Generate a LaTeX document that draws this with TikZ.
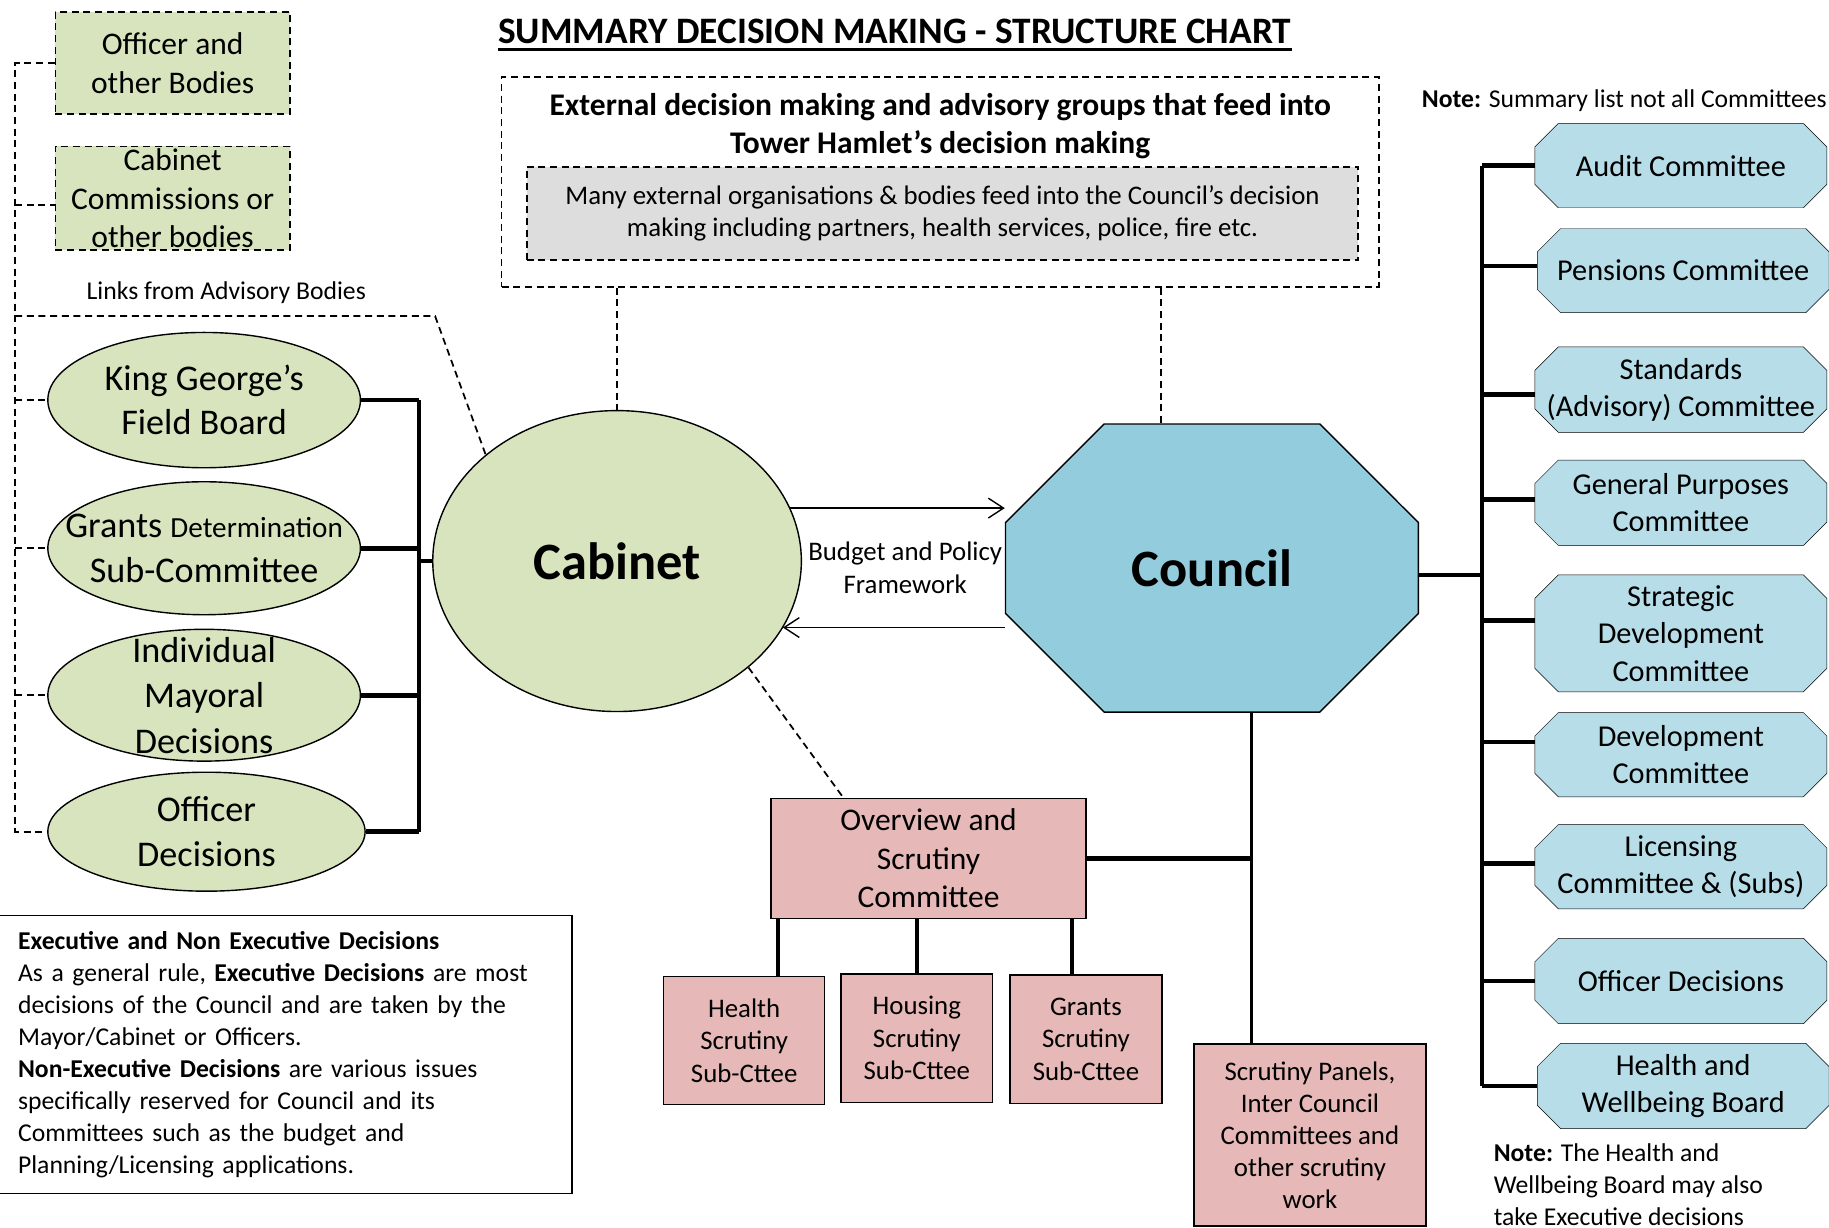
\documentclass[tikz,border=0pt]{standalone}
\usepackage{fontspec}
\setmainfont{Carlito}
\usetikzlibrary{arrows.meta,shapes.geometric,shapes.misc,backgrounds}

\definecolor{cabgreen}{RGB}{215,228,189}
\definecolor{cncblue}{RGB}{147,205,221}
\definecolor{cttblue}{RGB}{183,222,232}
\definecolor{scrpink}{RGB}{230,185,184}
\definecolor{extgray}{RGB}{221,221,221}

\newcommand{\fsz}[2]{\fontsize{#1}{#2}\selectfont}

\begin{document}
\begin{tikzpicture}[x=1pt,y=-1pt,line width=1.2pt,
    >={Straight Barb[length=13pt,width=17pt]},
    dashline/.style={dash pattern=on 6pt off 4pt,line width=1.5pt},
    bus/.style={line width=4pt},
    txt/.style={align=center,inner sep=0pt},
    greenell/.style={ellipse,draw,fill=cabgreen,inner sep=0pt},
    advbox/.style={rectangle,draw,dashline,fill=cabgreen,inner sep=0pt,minimum width=201pt},
    pinkbox/.style={rectangle,draw,fill=scrpink,inner sep=0pt,align=center},
    subbox/.style={pinkbox,minimum width=130pt,minimum height=110pt,font=\fsz{23}{28}},
    cttbox/.style={rectangle,inner sep=0pt,minimum width=249pt,minimum height=71pt,align=center,font=\fsz{26}{32}},
  ]
  \useasboundingbox (0,0) rectangle (1568,1052);

  % heading
  \node[inner sep=0pt,font=\fsz{32}{38}\bfseries] (title) at (767,27) {SUMMARY DECISION MAKING - STRUCTURE CHART};
  \draw[line width=2.5pt] ([yshift=-4pt]title.south west) -- ([yshift=-4pt]title.south east);

  % external groups
  \node[draw,dashline,minimum width=752pt,minimum height=180pt] (ext) at (806,156) {};
  \node[txt,font=\fsz{27}{33}\bfseries] (exttitle) at (806,108) {External decision making and advisory groups that feed into\\Tower Hamlet’s decision making};
  \node[draw,dashline,fill=extgray,minimum width=713pt,minimum height=80pt,align=center,font=\fsz{23}{28}] (extorg) at (808,183)
    {Many external organisations \& bodies feed into the Council’s decision\\making including partners, health services, police, fire etc.};

  % advisory bodies
  \node[advbox,minimum height=88pt,align=center,font=\fsz{27}{33}] (offbod) at (148,54) {Officer and\\other Bodies};
  \node[advbox,minimum height=89pt] (cabcom) at (148,170) {};
  \node[txt,font=\fsz{27}{33}] at (cabcom) {Cabinet\\Commissions or\\other bodies};
  \node[font=\fsz{22}{27}] (links) at (194,251) {Links from Advisory Bodies};

  % executive side
  \node[greenell,minimum width=268pt,minimum height=116pt] (kgf) at (175,343) {};
  \node[txt,font=\fsz{31}{38}] at (kgf) {King George’s\\Field Board};
  \node[greenell,minimum width=268pt,minimum height=114pt] (gds) at (175,470) {};
  \node[txt,font=\fsz{31}{38}] at (gds) {Grants {\fsz{25}{38}Determination}\\Sub-Committee};
  \node[greenell,minimum width=268pt,minimum height=113pt] (imd) at (175,596) {};
  \node[txt,font=\fsz{31}{39}] at (imd) {Individual\\Mayoral\\Decisions};
  \node[greenell,minimum width=272pt,minimum height=102pt] (ofd) at (177,713) {};
  \node[txt,font=\fsz{31}{39}] at (ofd) {Officer\\Decisions};

  \node[greenell,minimum width=316pt,minimum height=258pt,font=\fsz{45}{54}\bfseries] (cab) at (529,481) {Cabinet};
  \node[chamfered rectangle,chamfered rectangle sep=72pt,draw,fill=cncblue,inner sep=0pt,
    minimum width=354pt,minimum height=247pt,font=\fsz{45}{54}\bfseries] (cnc) at (1039,487) {Council};

  \node[txt,font=\fsz{23}{28}] (bpf) at (776,487) {Budget and Policy\\Framework};

  % scrutiny
  \node[pinkbox,minimum width=270pt,minimum height=103pt,font=\fsz{27}{33}] (osc) at (796,736) {Overview and\\Scrutiny\\Committee};
  \node[subbox,minimum width=138pt] (hsc) at (638,892) {Health\\Scrutiny\\Sub-Cttee};
  \node[subbox] (hou) at (786,890) {Housing\\Scrutiny\\Sub-Cttee};
  \node[subbox] (gsc) at (931,891) {Grants\\Scrutiny\\Sub-Cttee};
  \node[pinkbox,minimum width=199pt,minimum height=156pt,font=\fsz{23}{27.5}] (spn) at (1123,973)
    {Scrutiny Panels,\\Inter Council\\Committees and\\other scrutiny\\work};

  % council committees
  \node[anchor=west,font=\fsz{22}{27}] (note1) at (1215,86) {\textbf{Note:} Summary list not all Committees};
  \node[cttbox] (aud) at (1441,142) {Audit Committee};
  \node[cttbox] (pen) at (1443,232) {Pensions Committee};
  \node[cttbox,minimum height=72pt] (std) at (1441,334) {Standards\\(Advisory) Committee};
  \node[cttbox,minimum height=72pt] (gpc) at (1441,431) {General Purposes\\Committee};
  \node[cttbox,minimum height=99pt] (sdc) at (1441,543) {Strategic\\Development\\Committee};
  \node[cttbox] (dev) at (1441,647) {Development\\Committee};
  \node[cttbox] (lic) at (1441,743) {Licensing\\Committee \& (Subs)};
  \node[cttbox,minimum height=72pt] (ofr) at (1441,841) {Officer Decisions};
  \node[cttbox,minimum height=72pt] (hwb) at (1443,931) {Health and\\Wellbeing Board};
  \begin{scope}[on background layer]
    \foreach \c in {aud,pen,std,gpc,sdc,dev,lic,ofr,hwb}
      \draw[fill=cttblue] ([xshift=20pt]\c.north west) -- ([xshift=-20pt]\c.north east) -- ([yshift=-20pt]\c.north east)
        -- ([yshift=20pt]\c.south east) -- ([xshift=-20pt]\c.south east) -- ([xshift=20pt]\c.south west)
        -- ([yshift=20pt]\c.south west) -- ([yshift=-20pt]\c.north west) -- cycle;
  \end{scope}
  \node[anchor=north west,align=left,inner sep=0pt,font=\fsz{22}{27.4}] (note2) at (1280,980)
    {\textbf{Note:} The Health and\\Wellbeing Board may also\\take Executive decisions};

  % decisions text
  \node[draw,minimum width=491pt,minimum height=238pt,text width=459pt,align=left,inner xsep=16pt,font=\fsz{22}{27.4}] (decnote) at (245,904)
    {\textbf{Executive and Non Executive Decisions}\\
     As a general rule, \textbf{Executive Decisions} are most\\
     decisions of the Council and are taken by the\\
     Mayor/Cabinet or Officers.\\
     \textbf{Non-Executive Decisions} are various issues\\
     specifically reserved for Council and its\\
     Committees such as the budget and\\
     Planning/Licensing applications.};

  % dashed links
  \coordinate (lrail) at (13,713);
  \coordinate (lnk) at (373,271);
  \coordinate (cncTop) at ([xshift=-44pt]cnc.north);
  \draw[dashline] (offbod.west) -- (offbod.west -| lrail) -- (lrail) -- (ofd.west);
  \draw[dashline] ([yshift=-6pt]cabcom.west -| lrail) -- ([yshift=-6pt]cabcom.west);
  \draw[dashline] (kgf.west -| lrail) -- (kgf.west);
  \draw[dashline] (gds.west -| lrail) -- (gds.west);
  \draw[dashline] (imd.west -| lrail) -- (imd.west);
  \draw[dashline] (lnk -| lrail) -- (lnk) -- (cab.141);
  \draw[dashline] (ext.south -| cab.north) -- (cab.north);
  \draw[dashline] (cncTop |- ext.south) -- (cncTop);
  \draw[dashline] (cab.-39) -- ([xshift=-73pt]osc.north);

  % budget arrows
  \draw[->] (cab.17) -- (cab.17 -| cnc.west);
  \coordinate (bpfBot) at ([yshift=-51pt]cnc.west);
  \draw[->] (bpfBot) -- (bpfBot -| cab.-22);

  % executive bus
  \coordinate (lbus) at ([xshift=-11pt]cab.west);
  \draw[bus] (kgf.east) -- (kgf.east -| lbus);
  \draw[bus] (gds.east) -- (gds.east -| lbus);
  \draw[bus] (imd.east) -- (imd.east -| lbus);
  \draw[bus] (ofd.east) -- (ofd.east -| lbus);
  \draw[line width=3pt] (kgf.east -| lbus) -- (ofd.east -| lbus);
  \draw[line width=3pt] (lbus) -- (cab.west);

  % scrutiny bus
  \coordinate (cdown) at ([xshift=34pt]cnc.south);
  \coordinate (hscTop) at ([xshift=29pt]hsc.north);
  \coordinate (gscTop) at ([xshift=-12pt]gsc.north);
  \draw[line width=3pt] (cdown) -- (cdown |- spn.north);
  \draw[bus] (osc.east) -- (osc.east -| cdown);
  \draw[bus] (hscTop |- osc.south) -- (hscTop);
  \draw[bus] (hou.north |- osc.south) -- (hou.north);
  \draw[bus] (gscTop |- osc.south) -- (gscTop);

  % committee bus
  \coordinate (rbus) at ([xshift=54pt,yshift=-6pt]cnc.east);
  \draw[bus] (rbus -| cnc.east) -- (rbus);
  \draw[line width=3pt] (rbus |- aud.west) -- (rbus |- hwb.west);
  \draw[bus] (rbus |- aud.west) -- (aud.west);
  \draw[bus] ([yshift=4pt]rbus |- pen.west) -- ([yshift=4pt]pen.west);
  \draw[bus] ([yshift=-4pt]rbus |- std.west) -- ([yshift=-4pt]std.west);
  \draw[bus] ([yshift=3pt]rbus |- gpc.west) -- ([yshift=3pt]gpc.west);
  \draw[bus] ([yshift=11pt]rbus |- sdc.west) -- ([yshift=11pt]sdc.west);
  \draw[bus] ([yshift=11pt]rbus |- dev.west) -- ([yshift=11pt]dev.west);
  \draw[bus] ([yshift=3pt]rbus |- lic.west) -- ([yshift=3pt]lic.west);
  \draw[bus] (rbus |- ofr.west) -- (ofr.west);
  \draw[bus] (rbus |- hwb.west) -- (hwb.west);
\end{tikzpicture}
\end{document}
